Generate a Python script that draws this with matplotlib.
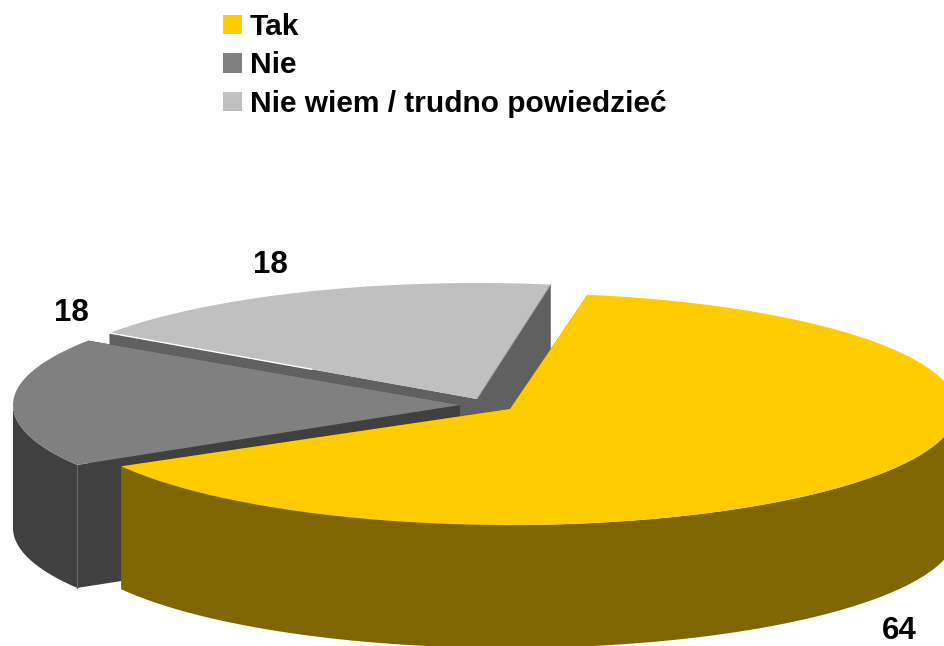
import numpy as np
import matplotlib
matplotlib.use("Agg")
import matplotlib.pyplot as plt
from matplotlib.patches import Patch, Polygon

labels = ["Tak", "Nie", "Nie wiem / trudno powiedzieć"]
values = [64, 18, 18]
top_colors = ["#FFCC00", "#808080", "#C0C0C0"]
wall_colors = ["#806600", "#404040", "#606060"]

# pixel layout of the exploded 3d pie
centers = [(510, 409), (460, 405), (477, 399)]
slice_shift = [0, -1.5, -0.5]
rx = 447
ry = 116
depth = 123
start_angle = 10

plt.rcParams["font.family"] = ["Liberation Sans", "DejaVu Sans"]
plt.rcParams["font.weight"] = "bold"

fig = plt.figure(figsize=(9.44, 6.46), dpi=100)
ax = fig.add_axes([0, 0, 1, 1])
ax.set_xlim(0, 944)
ax.set_ylim(646, 0)
ax.axis("off")


def rim(center, a0, a1):
    # angles run clockwise from the top of the ellipse
    t = np.radians(np.linspace(a0, a1, 200))
    return np.column_stack([center[0] + rx * np.sin(t), center[1] - ry * np.cos(t)])


# work out the angle range of every slice
angles = [start_angle]
for v in values:
    angles.append(angles[-1] + v / sum(values) * 360)

# back slice first, yellow last
for i in [2, 1, 0]:
    a0, a1 = angles[i] + slice_shift[i], angles[i + 1] + slice_shift[i]
    c = centers[i]
    arc = rim(c, a0, a1)
    drop = np.array([0, depth])

    # the two cut faces
    for p in [arc[0], arc[-1]]:
        face = np.array([p, c, np.array(c) + drop, p + drop])
        ax.add_patch(Polygon(face, closed=True, fc=wall_colors[i], ec="none", zorder=i * -3))

    # outer wall, only the part facing the viewer
    f0, f1 = max(a0, 90), min(a1, 270)
    if f0 < f1:
        front = rim(c, f0, f1)
        wall = np.vstack([front, (front + drop)[::-1]])
        ax.add_patch(Polygon(wall, closed=True, fc=wall_colors[i], ec="none", zorder=i * -3 + 1))

    top = np.vstack([[c], arc])
    ax.add_patch(Polygon(top, closed=True, fc=top_colors[i], ec="none", zorder=i * -3 + 2))

    if i == 2:
        # thin white highlight on the left cut of the light slice
        p = arc[0]
        q = p + (np.array(c) - p) * 0.55
        ax.plot([p[0], q[0]], [p[1], q[1]], color="white", lw=1.0, zorder=i * -3 + 2)
        r = arc[-1]
        ax.plot([r[0], c[0]], [r[1], c[1]], color="#8c8c8c", lw=0.6, zorder=i * -3 + 2)
    if i == 1:
        # seam between the wall and the cut face
        p = arc[0]
        ax.plot([p[0], p[0]], [p[1], p[1] + depth], color="#6a6a6a", lw=0.7, zorder=i * -3 + 2)

ax.text(270, 273, "18", fontsize=22.5, ha="center", va="baseline", color="black")
ax.text(71, 321, "18", fontsize=22.5, ha="center", va="baseline", color="black")
ax.text(899, 639, "64", fontsize=22.5, ha="center", va="baseline", color="black")

handles = [Patch(fc=c, ec="none", label=l) for c, l in zip(top_colors, labels)]
ax.legend(handles=handles, loc="upper left", bbox_to_anchor=(223 / 944, 1 - 13 / 646),
          frameon=False, fontsize=21.5, handlelength=0.63, handleheight=0.63,
          handletextpad=0.27, labelspacing=0.35, borderpad=0, borderaxespad=0)

fig.savefig("out.png", dpi=100)
